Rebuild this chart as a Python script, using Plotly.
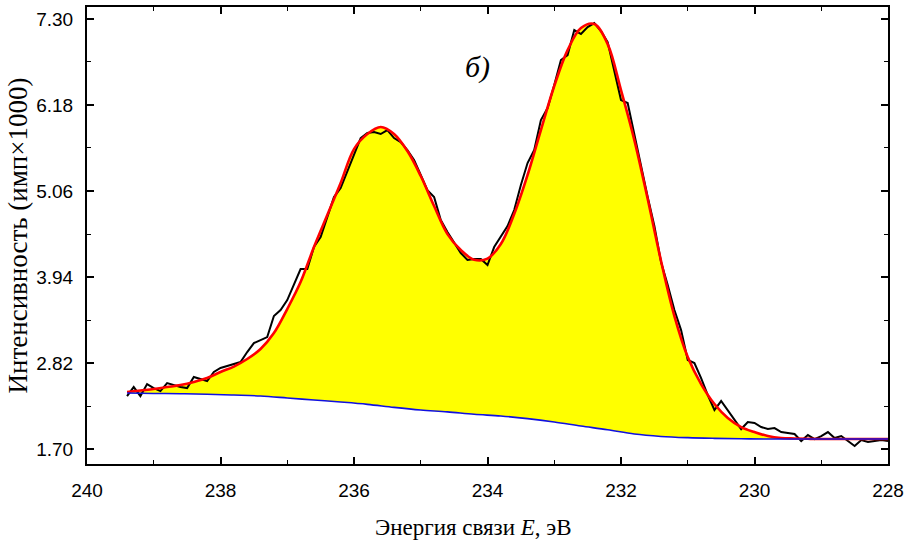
import plotly.graph_objects as go

# Measured spectrum (binding energy, eV) and intensity (counts x1000)
energy_data = [239.4, 239.3, 239.2, 239.1, 239.0, 238.9, 238.8, 238.7, 238.6, 238.5,
               238.4, 238.3, 238.2, 238.1, 238.0, 237.9, 237.8, 237.7, 237.6, 237.5,
               237.4, 237.3, 237.2, 237.1, 237.0, 236.9, 236.8, 236.7, 236.6, 236.5,
               236.4, 236.3, 236.2, 236.1, 236.0, 235.9, 235.8, 235.7, 235.6, 235.5,
               235.4, 235.3, 235.2, 235.1, 235.0, 234.9, 234.8, 234.7, 234.6, 234.5,
               234.4, 234.3, 234.2, 234.1, 234.0, 233.9, 233.8, 233.7, 233.6, 233.5,
               233.4, 233.3, 233.2, 233.1, 233.0, 232.9, 232.8, 232.7, 232.6, 232.5,
               232.4, 232.3, 232.2, 232.1, 232.0, 231.9, 231.8, 231.7, 231.6, 231.5,
               231.4, 231.3, 231.2, 231.1, 231.0, 230.9, 230.8, 230.7, 230.6, 230.5,
               230.4, 230.3, 230.2, 230.1, 230.0, 229.9, 229.8, 229.7, 229.6, 229.5,
               229.4, 229.3, 229.2, 229.1, 229.0, 228.9, 228.8, 228.7, 228.6, 228.5,
               228.4, 228.3, 228.2, 228.1, 228.0]
intensity_data = [2.390, 2.507, 2.390, 2.546, 2.494, 2.455, 2.559, 2.533, 2.507, 2.494,
                  2.638, 2.611, 2.585, 2.703, 2.755, 2.781, 2.807, 2.833, 2.963, 3.080,
                  3.119, 3.158, 3.432, 3.510, 3.640, 3.835, 4.044, 4.044, 4.330, 4.460,
                  4.708, 4.981, 5.098, 5.307, 5.528, 5.749, 5.815, 5.828, 5.802, 5.854,
                  5.749, 5.697, 5.593, 5.463, 5.268, 5.072, 4.981, 4.682, 4.526, 4.382,
                  4.252, 4.161, 4.174, 4.174, 4.096, 4.330, 4.460, 4.604, 4.812, 5.138,
                  5.424, 5.593, 5.984, 6.140, 6.440, 6.765, 6.830, 7.156, 7.104, 7.195,
                  7.247, 7.143, 6.999, 6.635, 6.244, 6.205, 5.789, 5.398, 4.981, 4.604,
                  4.135, 3.835, 3.510, 3.249, 2.859, 2.820, 2.624, 2.403, 2.208, 2.325,
                  2.208, 2.078, 1.960, 2.052, 2.039, 1.986, 1.960, 1.973, 1.921, 1.908,
                  1.895, 1.804, 1.882, 1.830, 1.869, 1.921, 1.843, 1.869, 1.804, 1.739,
                  1.817, 1.791, 1.804, 1.817, 1.804]

# Fitted envelope
energy_fit = [239.4, 239.2, 239.0, 238.8, 238.6, 238.4, 238.2, 238.0, 237.8, 237.6,
              237.4, 237.2, 237.0, 236.8, 236.6, 236.4, 236.2, 236.0, 235.8, 235.6,
              235.4, 235.2, 235.0, 234.8, 234.6, 234.4, 234.2, 234.0, 233.8, 233.6,
              233.4, 233.2, 233.0, 232.8, 232.6, 232.4, 232.2, 232.0, 231.8, 231.6,
              231.4, 231.2, 231.0, 230.8, 230.6, 230.4, 230.2, 230.0, 229.8, 229.6,
              229.4, 229.2, 229.0, 228.8, 228.6, 228.4, 228.2, 228.0]
intensity_fit = [2.442, 2.462, 2.481, 2.507, 2.533, 2.572, 2.624, 2.703, 2.774, 2.872,
                 3.002, 3.210, 3.523, 3.874, 4.330, 4.747, 5.164, 5.606, 5.802, 5.893,
                 5.802, 5.580, 5.255, 4.864, 4.499, 4.291, 4.165, 4.180, 4.370, 4.760,
                 5.268, 5.854, 6.427, 6.895, 7.182, 7.234, 6.973, 6.374, 5.723, 4.955,
                 4.148, 3.432, 2.898, 2.546, 2.286, 2.104, 1.986, 1.921, 1.869, 1.843,
                 1.837, 1.833, 1.830, 1.830, 1.830, 1.830, 1.830, 1.830]

# Background
energy_bg = [239.4, 239.0, 238.6, 238.2, 237.8, 237.4, 237.0, 236.6, 236.2, 235.8,
             235.4, 235.0, 234.6, 234.2, 233.8, 233.4, 233.0, 232.6, 232.2, 231.8,
             231.4, 231.0, 230.6, 230.2, 229.8, 229.0, 228.0]
intensity_bg = [2.429, 2.424, 2.420, 2.414, 2.403, 2.390, 2.365, 2.338, 2.312, 2.282,
                2.242, 2.208, 2.184, 2.152, 2.130, 2.096, 2.052, 2.000, 1.951, 1.895,
                1.864, 1.848, 1.839, 1.833, 1.830, 1.830, 1.830]

y_ticks = [1.70, 2.82, 3.94, 5.06, 6.18, 7.30]
y_tick_labels = ["1.70", "2.82", "3.94", "5.06", "6.18", "7.30"]
x_ticks = [240, 238, 236, 234, 232, 230, 228]

fig = go.Figure()
fig.add_trace(go.Scatter(x=energy_bg, y=intensity_bg, mode="lines",
                         line=dict(width=0, shape="spline", color="blue"),
                         hoverinfo="skip"))
fig.add_trace(go.Scatter(x=energy_fit, y=intensity_fit, mode="lines",
                         line=dict(width=0, shape="spline", color="red"),
                         fill="tonexty", fillcolor="#FFFF00", hoverinfo="skip"))
fig.add_trace(go.Scatter(x=energy_data, y=intensity_data, mode="lines",
                         line=dict(width=2, color="black")))
fig.add_trace(go.Scatter(x=energy_fit, y=intensity_fit, mode="lines",
                         line=dict(width=2.6, color="#FF0000", shape="spline")))
fig.add_trace(go.Scatter(x=energy_bg, y=intensity_bg, mode="lines",
                         line=dict(width=1.6, color="#1010E0", shape="spline")))

tickfont = dict(family="Liberation Sans, Arial, sans-serif", size=19, color="black")
serif = "Liberation Serif, Times New Roman, serif"

fig.update_xaxes(range=[240, 228], tickvals=x_ticks, ticks="inside", ticklen=7,
                 tickwidth=1.5, tickcolor="black", showline=True, linewidth=2,
                 linecolor="black", mirror="ticks", showgrid=False, zeroline=False,
                 minor=dict(dtick=1, tick0=228, ticks="inside", ticklen=4,
                            tickwidth=1.2, tickcolor="black", showgrid=False),
                 tickfont=tickfont, ticklabelstandoff=8, automargin=False)
fig.update_yaxes(range=[1.505, 7.456], tickvals=y_ticks, ticktext=y_tick_labels,
                 ticks="inside", ticklen=7, tickwidth=1.5, tickcolor="black",
                 showline=True, linewidth=2, linecolor="black", mirror="ticks",
                 showgrid=False, zeroline=False,
                 minor=dict(dtick=0.56, tick0=1.70, ticks="inside", ticklen=4,
                            tickwidth=1.2, tickcolor="black", showgrid=False),
                 tickfont=tickfont, ticklabelstandoff=8, automargin=False,
                 title=dict(text="Интенсивность (имп×1000)",
                            font=dict(family=serif, size=27, color="black"), standoff=1))

fig.add_annotation(text="Энергия связи <i>E</i>, эВ", xref="paper", yref="paper",
                   x=0.483, y=-0.140, xanchor="center", yanchor="middle",
                   showarrow=False, font=dict(family=serif, size=23, color="black"))
fig.add_annotation(text="<i>б)</i>", xref="paper", yref="paper", x=0.487, y=0.868,
                   xanchor="center", yanchor="middle", showarrow=False,
                   font=dict(family=serif, size=30, color="black"))

fig.update_layout(width=908, height=551, margin=dict(l=87, r=20, t=7, b=87),
                  plot_bgcolor="white", paper_bgcolor="white", showlegend=False)

fig.write_html("out.html")
